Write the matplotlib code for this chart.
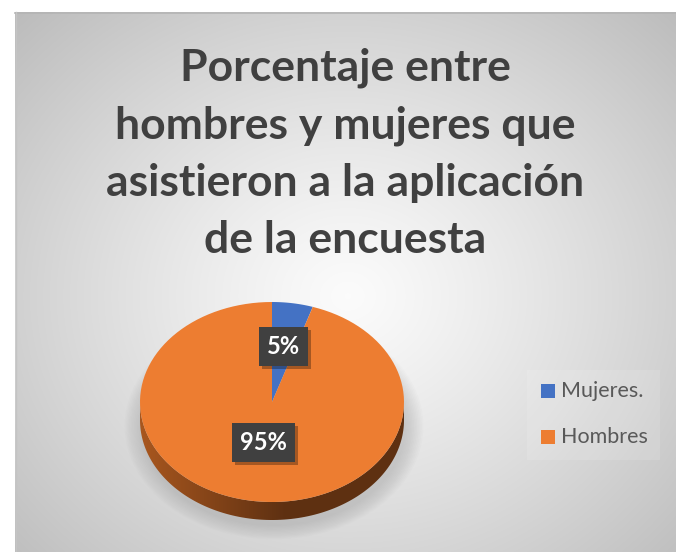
import matplotlib.pyplot as plt
import matplotlib.patheffects as pe
import numpy as np
from matplotlib.patches import Polygon, Rectangle, Ellipse

labels = ['Mujeres.', 'Hombres']
values = [5, 95]
pct_text = ['5%', '95%']
colors = ['#4472C4', '#ED7D31']
title = 'Porcentaje entre\nhombres y mujeres que\nasistieron a la aplicación\nde la encuesta'

W, H = 676, 552
cx, cy, rx, ry, depth = 272, 402, 132, 100, 18
label_r = [0.56, 0.41]


def pt(phi, dy=0):
    a = np.radians(phi)
    return cx + rx * np.cos(a), cy - ry * np.sin(a) + dy


def arc(a0, a1, n=120, dy=0):
    ph = np.linspace(a0, a1, n)
    return np.column_stack(pt(ph, dy))


def front_parts(a_hi, a_lo):
    # pieces of [a_lo, a_hi] lying on the front (lower) half of the ellipse
    out = []
    for k in range(-2, 3):
        lo, hi = 180 + 360 * k, 360 + 360 * k
        s, e = max(lo, a_lo), min(hi, a_hi)
        if e > s:
            out.append((s, e))
    return out


fig = plt.figure(figsize=(W / 100, H / 100), dpi=100)
ax = fig.add_axes([0, 0, 1, 1])
ax.set_xlim(0, W)
ax.set_ylim(H, 0)
ax.axis('off')

# background: white margin + grey radial gradient panel
yy, xx = np.mgrid[0:H, 0:W]
d = np.hypot((xx - 340) / 380, (yy - 290) / 330)
g = np.clip(0.985 - 0.19 * d ** 1.2, 0, 1)
img = np.dstack([g, g, g])
ax.imshow(img, extent=(15, W, H, 12), zorder=0, interpolation='bilinear')
ax.plot([15, W], [12.5, 12.5], color='#b4b4b4', lw=1.2, zorder=1)
ax.plot([15.5, 15.5], [12, H], color='#c4c4c4', lw=1, zorder=1)

# soft shadow under the pie
for i in range(12):
    sc = 1.0 + i * 0.012
    ax.add_patch(Ellipse((cx + 2, cy + depth + 6), 2 * rx * sc, 2 * ry * sc,
                         fc='#7a7a7a', ec='none', alpha=0.025, zorder=2))

total = sum(values)
cum = np.cumsum([0] + values) / total
starts = 90 - 360 * cum[:-1]
ends = 90 - 360 * cum[1:]

# side walls
grad = np.linspace(0, 1, 256)
c_left = np.array([0.66, 0.34, 0.12])
c_dark = np.array([0.37, 0.19, 0.07])
mix = np.clip(grad / 0.55, 0, 1)[:, None]
side_rgb = (c_left * (1 - mix) + c_dark * mix)[None, :, :]
for i in range(len(values)):
    for s, e in front_parts(starts[i], ends[i]):
        top = arc(s, e)
        bot = arc(e, s, dy=depth)
        poly = Polygon(np.vstack([top, bot]), closed=True, fc='none', ec='none', zorder=3)
        ax.add_patch(poly)
        im = ax.imshow(side_rgb, extent=(cx - rx, cx + rx, cy + ry + depth, cy - ry),
                       aspect='auto', zorder=3, interpolation='bilinear')
        im.set_clip_path(poly)

# top faces
for i in range(len(values)):
    pts = np.vstack([[cx, cy], arc(starts[i], ends[i])])
    ax.add_patch(Polygon(pts, closed=True, fc=colors[i], ec='none', zorder=4))

# data labels
for i in range(len(values)):
    mid = (starts[i] + ends[i]) / 2
    a = np.radians(mid)
    x = cx + label_r[i] * rx * np.cos(a)
    y = cy - label_r[i] * ry * np.sin(a)
    t = ax.text(x, y, pct_text[i], ha='center', va='center', color='white',
                fontsize=17, fontweight='bold', family='Lato', zorder=6,
                bbox=dict(boxstyle='square,pad=0.33', fc='#404040', ec='none'))
    t.get_bbox_patch().set_path_effects([
        pe.SimplePatchShadow(offset=(2, -2), shadow_rgbFace='black', alpha=0.3),
        pe.Normal()])

# title
ax.text(345, 154, title, ha='center', va='center', fontsize=32, fontweight='bold',
        family='Lato', color='#404040', linespacing=1.52, zorder=5)

# legend
ax.add_patch(Rectangle((527, 370), 133, 90, fc='white', ec='none', alpha=0.12, zorder=4))
for i, lab in enumerate(labels):
    ly = 391 + 46 * i
    ax.add_patch(Rectangle((541, ly - 7), 14, 14, fc=colors[i], ec='none', zorder=5))
    ax.text(561, ly, lab, ha='left', va='center', fontsize=15.5, family='Lato',
            color='#595959', zorder=5)

fig.savefig('out.png', dpi=100)
